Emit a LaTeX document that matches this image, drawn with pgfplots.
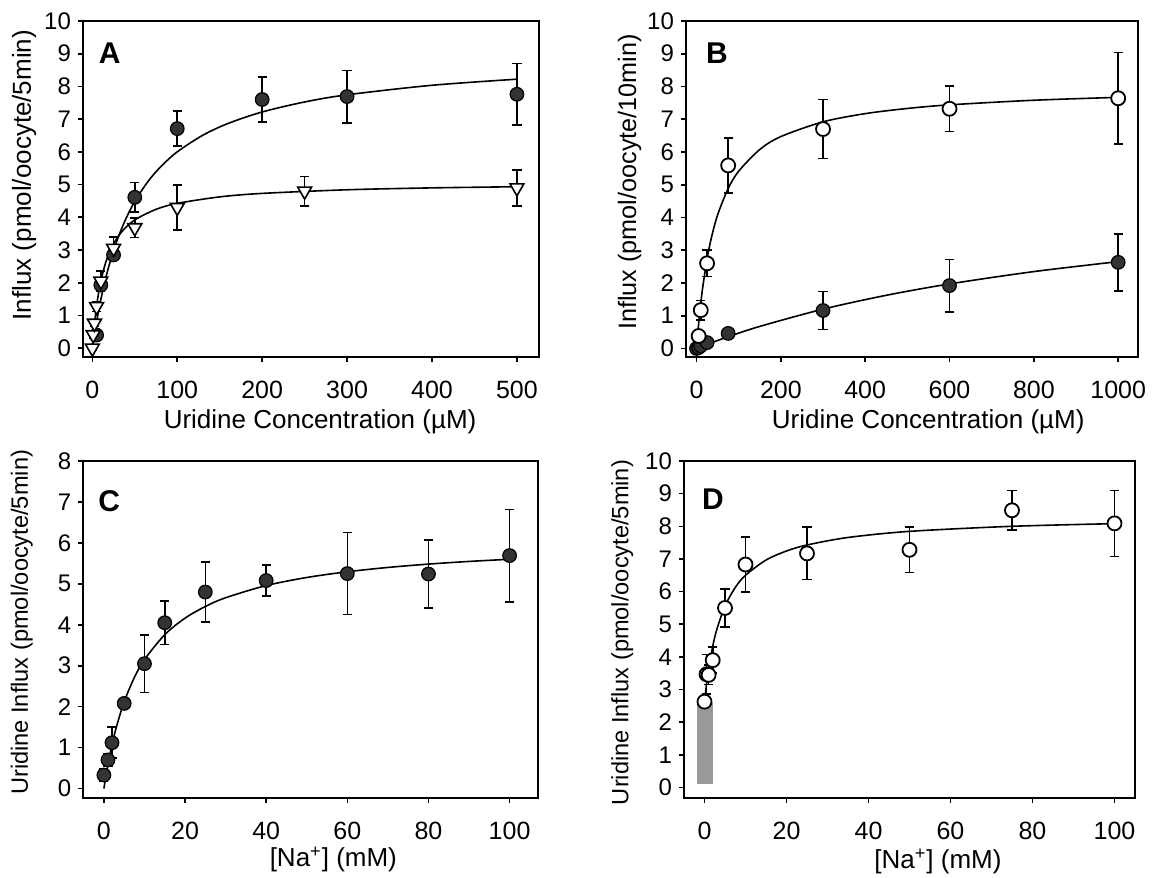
\documentclass[border=0pt]{standalone}
\usepackage{fontspec}
\setmainfont{Liberation Sans}
\usepackage{pgfplots}
\pgfplotsset{compat=1.18}
\pgfplotsset{
  kin/.style={
    scale only axis,
    anchor=south west,
    axis line style={line width=0.9pt},
    tick align=outside,
    xtick pos=left, ytick pos=left,
    major tick length=2.5pt,
    tick style={line width=0.8pt, black},
    xticklabel style={font=\fontsize{12.5}{14}\selectfont, yshift=-6pt},
    yticklabel style={font=\fontsize{12}{14}\selectfont},
    /pgf/number format/assume math mode=true,
    /pgf/number format/set thousands separator={},
    scaled ticks=false,
    xlabel style={font=\fontsize{13}{15}\selectfont, anchor=center},
    ylabel style={font=\fontsize{12.8}{14}\selectfont, anchor=center},
    clip=false,
  },
  fitline/.style={black, line width=0.8pt, smooth, no marks},
  ebars/.style={error bars/.cd, y dir=both, y explicit,
    error bar style={line width=0.8pt, black},
    error mark options={rotate=90, line width=0.8pt, mark size=2.3pt, black}},
  filledc/.style={only marks, mark=*, mark size=3.4pt,
    mark options={draw=black, fill=black!80, line width=0.6pt}, ebars},
  openc/.style={only marks, mark=*, mark size=3.5pt,
    mark options={draw=black, fill=white, line width=0.9pt}, ebars},
  tri/.style={only marks, mark=triangle*, mark size=4pt,
    mark options={draw=black, fill=white, line width=0.8pt, rotate=180}, ebars},
}
\tikzset{letter/.style={font=\bfseries\fontsize{15}{17}\selectfont, anchor=center}}
\begin{document}
\begin{tikzpicture}
% ---------------- A ----------------
\begin{axis}[kin, at={(41.5pt,260.5pt)}, width=228pt, height=168pt,
  xmin=-11, xmax=526, ymin=-0.27, ymax=10,
  xtick={0,100,...,500}, ytick={0,1,...,10},
  xlabel={Uridine Concentration (µM)},
  ylabel={Influx (pmol/oocyte/5min)},
  xlabel style={at={(rel axis cs:0.52,-0.192)}},
  ylabel style={font=\fontsize{13}{15}\selectfont, at={(rel axis cs:-0.129,0.541)}}]
\addplot[fitline] coordinates {(0,0) (2,0.342) (5,0.809) (10,1.485) (15,2.059) (20,2.552) (30,3.356) (40,3.982) (50,4.485) (65,5.077) (80,5.533) (100,6.000) (130,6.507) (160,6.870) (200,7.219) (250,7.525) (300,7.744) (400,8.035) (500,8.221)};
\addplot[fitline] coordinates {(0,0) (1,0.322) (2.5,0.734) (5,1.283) (7.5,1.709) (10,2.048) (15,2.557) (20,2.920) (25,3.191) (35,3.570) (50,3.920) (75,4.243) (100,4.425) (150,4.624) (200,4.730) (300,4.841) (400,4.899) (500,4.934)};
\addplot[filledc] table[x=x, y=y, y error=e] {
x y e
5 0.40 0.10
10 1.93 0.20
25 2.85 0.15
50 4.61 0.45
100 6.71 0.53
200 7.60 0.68
300 7.69 0.80
500 7.76 0.94
};
\addplot[tri] table[x=x, y=y, y error=e] {
x y e
0 0.00 0.05
1 0.41 0.10
2.5 0.76 0.10
5 1.27 0.15
10 2.05 0.30
25 3.05 0.35
50 3.68 0.30
100 4.30 0.68
250 4.80 0.45
500 4.90 0.55
};
\node[letter] at (rel axis cs:0.0587,0.903) {A};
\end{axis}
% ---------------- B ----------------
\begin{axis}[kin, at={(343pt,260.5pt)}, width=226pt, height=168pt,
  xmin=-25, xmax=1047, ymin=-0.26, ymax=10,
  xtick={0,200,...,1000}, ytick={0,1,...,10},
  xlabel={Uridine Concentration (µM)},
  ylabel={Influx (pmol/oocyte/10min)},
  xlabel style={at={(rel axis cs:0.536,-0.192)}},
  ylabel style={font=\fontsize{12.6}{14}\selectfont, at={(rel axis cs:-0.125,0.521)}}]
\addplot[fitline] coordinates {(0,0) (2.5,0.394) (5,0.751) (10,1.374) (15,1.899) (25,2.735) (35,3.370) (50,4.081) (75,4.883) (100,5.414) (150,6.076) (200,6.471) (300,6.921) (400,7.171) (500,7.329) (600,7.439) (800,7.580) (1000,7.668)};
\addplot[fitline] coordinates {(0,0) (25,0.125) (75,0.359) (150,0.674) (300,1.201) (450,1.624) (600,1.971) (800,2.348) (1000,2.652)};
\addplot[filledc] table[x=x, y=y, y error=e] {
x y e
0 0.00 0.03
5 0.03 0.03
10 0.08 0.05
25 0.18 0.10
75 0.46 0.15
300 1.16 0.58
600 1.92 0.80
1000 2.63 0.87
};
\addplot[openc] table[x=x, y=y, y error=e] {
x y e
5 0.38 0.10
10 1.17 0.30
25 2.60 0.40
75 5.59 0.84
300 6.70 0.90
600 7.32 0.69
1000 7.64 1.40
};
\node[letter] at (rel axis cs:0.0687,0.903) {B};
\end{axis}
% ---------------- C ----------------
\begin{axis}[kin, at={(41.6pt,40pt)}, width=227.4pt, height=168.5pt,
  xmin=-5.1, xmax=107, ymin=-0.23, ymax=8,
  xtick={0,20,...,100}, ytick={0,1,...,8},
  xlabel={[Na\textsuperscript{+}] (mM)},
  ylabel={Uridine Influx (pmol/oocyte/5min)},
  ylabel style={font=\fontsize{11.8}{13}\selectfont, at={(rel axis cs:-0.135,0.521)}},
  xlabel style={at={(rel axis cs:0.55,-0.183)}}]
\addplot[fitline] coordinates {(0,0) (1,0.586) (2,1.070) (3,1.476) (5,2.120) (7.5,2.711) (10,3.150) (15,3.759) (20,4.162) (25,4.447) (30,4.660) (40,4.958) (50,5.155) (60,5.295) (70,5.400) (80,5.482) (90,5.547) (100,5.600)};
\addplot[filledc] table[x=x, y=y, y error=e] {
x y e
0 0.33 0.15
1 0.70 0.15
2 1.12 0.38
5 2.08 0.10
10 3.05 0.70
15 4.05 0.53
25 4.80 0.73
40 5.08 0.38
60 5.25 1.00
80 5.24 0.83
100 5.69 1.13
};
\node[letter] at (rel axis cs:0.057,0.881) {C};
\end{axis}
% ---------------- D ----------------
\begin{axis}[kin, at={(342pt,40pt)}, width=225.5pt, height=168.5pt,
  xmin=-5, xmax=105, ymin=-0.32, ymax=10,
  xtick={0,20,...,100}, ytick={0,1,...,10},
  xlabel={[Na\textsuperscript{+}] (mM)},
  ylabel={Uridine Influx (pmol/oocyte/5min)},
  ylabel style={font=\fontsize{11.8}{13}\selectfont, at={(rel axis cs:-0.137,0.491)}},
  xlabel style={at={(rel axis cs:0.563,-0.188)}}]
\addplot[draw=none, fill=black!40] coordinates {(-1.9,0.1) (2.1,0.1) (2.1,2.6) (-1.9,2.6)} -- cycle;
\addplot[fitline] coordinates {(0,2.630) (0.5,3.174) (1,3.623) (2,4.322) (3,4.840) (5,5.558) (7.5,6.126) (10,6.501) (15,6.967) (20,7.244) (25,7.428) (35,7.658) (50,7.845) (75,8.000) (100,8.081)};
\addplot[openc] table[x=x, y=y, y error=e] {
x y e
0 2.63 0.10
0.5 3.47 0.60
1 3.45 0.30
2 3.90 0.40
5 5.50 0.58
10 6.83 0.85
25 7.17 0.80
50 7.28 0.69
75 8.49 0.61
100 8.09 1.01
};
\node[letter] at (rel axis cs:0.064,0.888) {D};
\end{axis}
\pgfresetboundingbox
\path (0,0) rectangle (579pt,439pt);
\end{tikzpicture}
\end{document}
